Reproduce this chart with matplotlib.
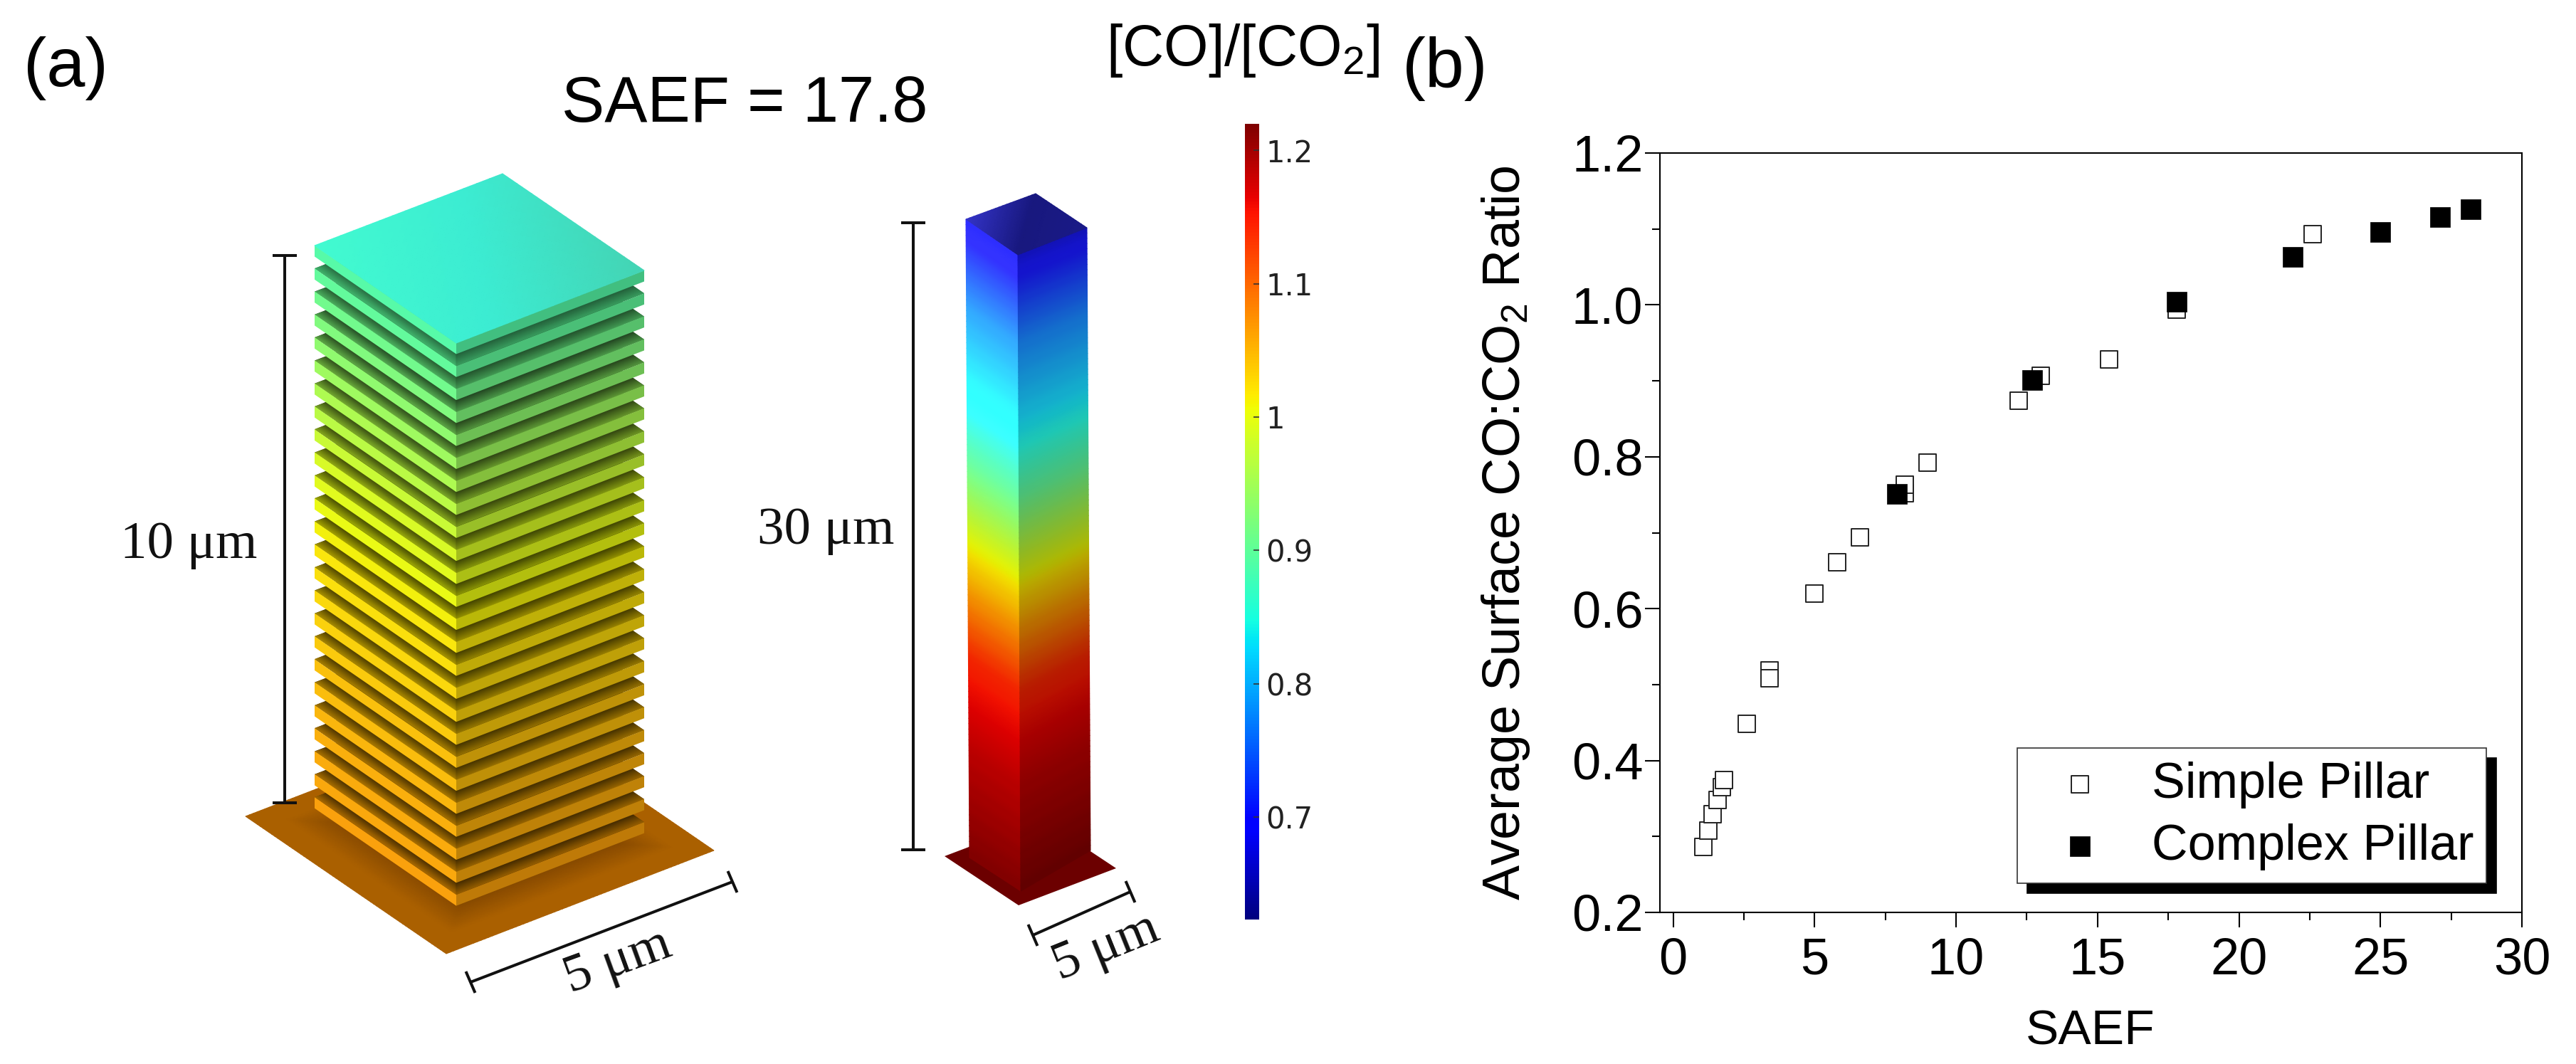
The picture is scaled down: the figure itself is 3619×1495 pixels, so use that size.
import numpy as np
import matplotlib
matplotlib.use("Agg")
import matplotlib.pyplot as plt
from matplotlib.colors import LinearSegmentedColormap, ListedColormap
from matplotlib.patches import Polygon

plt.rcParams['font.family'] = ['Liberation Sans', 'DejaVu Sans']
plt.rcParams['mathtext.default'] = 'regular'

# ---- panel (b) data ----
simple_saef = [1.07, 1.25, 1.40, 1.56, 1.72, 1.79, 2.6, 3.4, 3.4, 4.99, 5.8, 6.6, 8.19, 8.19, 9.0,
               12.2, 13.0, 15.4, 17.8, 22.6]
simple_ratio = [.286, .308, .329, .348, .365, .374, .448, .519, .508, .620, .661, .694, .752, .763, .792,
                .874, .907, .928, .994, 1.093]
complex_saef = [7.9, 12.7, 17.8, 21.9, 25.0, 27.1, 28.2]
complex_ratio = [.751, .901, 1.004, 1.063, 1.096, 1.116, 1.126]
x_ticks = [0, 5, 10, 15, 20, 25, 30]
y_ticks = [0.2, 0.4, 0.6, 0.8, 1.0, 1.2]

# ---- panel (a) readings ----
plate_ratio = [0.89, 0.90, 0.91, 0.922, 0.934, 0.946, 0.957, 0.968, 0.978, 0.99, 0.998, 1.005, 1.012,
               1.018, 1.023, 1.028, 1.033, 1.038, 1.043, 1.047, 1.051, 1.055, 1.058, 1.061, 1.064]
cbar_min, cbar_max = 0.623, 1.220
cbar_ticks = [0.7, 0.8, 0.9, 1.0, 1.1, 1.2]
cbar_labels = ['0.7', '0.8', '0.9', '1', '1.1', '1.2']
tall_frac = [0, .137, .30, .385, .50, .59, .685, .76, .84, 1]
tall_ratio = [.675, .77, .845, .905, 1.0, 1.07, 1.14, 1.165, 1.185, 1.215]

W, H = 3619, 1495
fig = plt.figure(figsize=(W / 100, H / 100), dpi=100, facecolor='white')
pix = fig.add_axes([0, 0, 1, 1])
pix.set_xlim(0, W)
pix.set_ylim(H, 0)
pix.axis('off')

jet = plt.get_cmap('jet')
base = jet(np.linspace(0, 1, 256))[:, :3]
lift = base[:, 2:3] * (1 - base[:, 0:1])
jet_light = ListedColormap(np.clip(base * 0.95 + 0.2 * lift, 0, 1))
jet_dark = ListedColormap(np.clip(base * 0.72 + 0.08 * lift, 0, 1))


def mesh(c00, c01, c10, c11, C, cmap, vmin, vmax, z):
    """Bilinear gouraud patch: rows go c00->c10, columns c00->c01; C has shape (rows, cols)."""
    C = np.asarray(C, float)
    r, c = C.shape
    v = np.linspace(0, 1, r)[:, None]
    u = np.linspace(0, 1, c)[None, :]
    P = [(1 - v) * (1 - u) * a + (1 - v) * u * b + v * (1 - u) * d + v * u * e
         for a, b, d, e in zip(c00, c01, c10, c11)]
    return pix.pcolormesh(P[0], P[1], C, cmap=cmap, vmin=vmin, vmax=vmax, shading='gouraud', zorder=z)


def rgb(v, f=1.0, mix=0.0):
    col = np.array(jet((v - cbar_min) / (cbar_max - cbar_min))[:3])
    return tuple(np.clip(col * f + mix, 0, 1))


# ---- short pillar base ----
b_L, b_F, b_R = np.array([345, 1147.]), np.array([627, 1340.]), np.array([1003, 1195.])
b_B = b_L + b_R - b_F
uu, vv = np.meshgrid(np.linspace(0, 1, 70), np.linspace(0, 1, 70))
shade = np.clip((np.maximum(abs(uu - .5), abs(vv - .5)) * 2 - 0.42) / 0.4, 0, 1)
base_cmap = LinearSegmentedColormap.from_list('b', ['#6e3a00', '#aa6000'])
mesh(b_L, b_B, b_F, b_R, shade, base_cmap, 0, 1, 1)

# ---- stacked plates ----
L0, B0, R0, F0 = map(np.array, ([442, 345.], [706, 244.], [905, 380.], [641, 482.]))
step = np.array([0, 32.3])
thick = np.array([0, 15.5])
z = 2
for i in reversed(range(len(plate_ratio))):
    d = step * i
    L, B, R, F = L0 + d, B0 + d, R0 + d, F0 + d
    v = plate_ratio[i]
    if i > 0:
        gap = np.array([0, -17.0])
        # the exposed rim of each lower plate: lit at its edge, shadowed under the plate above
        strength = min(1.0, 0.55 + 0.15 * i)
        outer = rgb(v, 0.80 - 0.12 * strength)
        inner = rgb(v, 0.72 - 0.42 * strength)
        face = Polygon([L, B, R, F], closed=True, fc=inner, ec='none', zorder=z)
        pix.add_patch(face)
        cm = LinearSegmentedColormap.from_list('r', [outer, inner])
        cm2 = LinearSegmentedColormap.from_list('r2', [rgb(v, 0.66 - 0.06 * strength), rgb(v, 0.62 - 0.36 * strength)])
        c = np.array([[0, 0], [1, 1]])
        m1 = mesh(L, F, L + gap, F + gap, c, cm, 0, 1, z)
        m2 = mesh(F, R, F + gap, R + gap, c, cm2, 0, 1, z)
        m1.set_clip_path(face)
        m2.set_clip_path(face)
    pix.add_patch(Polygon([L, F, F + thick, L + thick], closed=True, fc=rgb(v, 0.93, 0.05), ec='none', zorder=z))
    pix.add_patch(Polygon([F, R, R + thick, F + thick], closed=True, fc=rgb(v, 0.72, 0.03), ec='none', zorder=z))
    z += 0.01
top_cmap = LinearSegmentedColormap.from_list('t', ['#42fbd0', '#3cecd2', '#44d4b4'])
uu, vv = np.meshgrid(np.linspace(0, 1, 30), np.linspace(0, 1, 30))
mesh(L0, B0, F0, R0, (uu + vv * 0.6) / 1.6, top_cmap, 0, 1, z + 1)

# ---- tall pillar ----
tb_L, tb_F, tb_R = np.array([1327, 1203.]), np.array([1431, 1272.]), np.array([1568, 1220.])
pix.add_patch(Polygon([tb_L, tb_F, tb_R, tb_L + tb_R - tb_F], closed=True, fc='#6c0000', ec='none', zorder=1))
frac = np.linspace(0, 1, 120)
vals = np.interp(frac, tall_frac, tall_ratio)[:, None].repeat(2, axis=1)
tL, tF, tR, tB = map(np.array, ([1357, 308.], [1430, 358.], [1527, 320.], [1455, 272.]))
bL, bF, bR = map(np.array, ([1362, 1205.], [1434, 1252.], [1532, 1195.]))
mesh(tL, tF, bL, bF, vals, jet_light, cbar_min, cbar_max, 3)
mesh(tF, tR, bF, bR, vals, jet_dark, cbar_min, cbar_max, 3)
cap_cmap = LinearSegmentedColormap.from_list('c', ['#3434c8', '#18187e', '#1a1a88'])
uu, vv = np.meshgrid(np.linspace(0, 1, 20), np.linspace(0, 1, 20))
mesh(tL, tB, tF, tR, (uu + vv) / 2, cap_cmap, 0, 1, 3.1)


# ---- scale bars ----
def bar(p, q, cap):
    p, q, cap = map(np.array, (p, q, cap))
    for a, b in ((p, q), (p - cap, p + cap), (q - cap, q + cap)):
        pix.plot([a[0], b[0]], [a[1], b[1]], color='#111111', lw=2.9, solid_capstyle='butt', zorder=6)


bar((400, 359), (400, 1128), (17, 0))
bar((1283, 313), (1283, 1194), (17, 0))
bar((661, 1380), (1029, 1239), (6.5, 15))
bar((1451, 1314), (1588, 1253), (6.5, 15))

serif = ['Liberation Serif', 'DejaVu Serif']
ts = 54
for (tx, ty, s, rot) in [(265, 766, '10 μm', 0), (1160, 746, '30 μm', 0),
                         (868, 1352, '5 μm', 20), (1554, 1332, '5 μm', 22)]:
    pix.text(tx, ty, s, family=serif, fontsize=ts, rotation=rot, rotation_mode='anchor',
             ha='center', va='center', color='#111111')

pix.text(92, 96, '(a)', fontsize=70, ha='center', va='center')
pix.text(2030, 96, '(b)', fontsize=71, ha='center', va='center')
pix.text(1046, 148, 'SAEF = 17.8', fontsize=65, ha='center', va='center')
pix.text(1746, 71, '[CO]/[CO$_2$]', fontsize=58, ha='center', va='center')

# ---- colorbar ----
cax = fig.add_axes([1749 / W, 1 - 1292 / H, 20 / W, (1292 - 174) / H])
grad = np.linspace(cbar_min, cbar_max, 512)[:, None]
cax.imshow(grad, aspect='auto', origin='lower', cmap='jet', vmin=cbar_min, vmax=cbar_max,
           extent=[0, 1, cbar_min, cbar_max])
cax.set_xticks([])
cax.set_yticks(cbar_ticks)
cax.set_yticklabels(cbar_labels, family=['DejaVu Sans'], fontsize=30, color='#222222')
cax.yaxis.tick_right()
cax.tick_params(axis='y', direction='in', length=6, width=1.2, pad=7, color='#333333')
for s in cax.spines.values():
    s.set_visible(False)

# ---- panel (b) ----
ax = fig.add_axes([2332 / W, 1 - 1282 / H, (3543 - 2332) / W, (1282 - 215) / H])
ax.set_xlim(-0.47, 30)
ax.set_ylim(0.2, 1.2)
ax.scatter(simple_saef, simple_ratio, marker='s', s=300, facecolors='white', edgecolors='#222222',
           linewidths=1.4, label='Simple Pillar', zorder=3)
ax.scatter(complex_saef, complex_ratio, marker='s', s=380, facecolors='black', edgecolors='black',
           linewidths=0.5, label='Complex Pillar', zorder=4)
ax.set_xticks(x_ticks)
ax.set_yticks(y_ticks)
ax.set_yticklabels([f'{v:.1f}' for v in y_ticks])
ax.set_xticks(np.arange(2.5, 30, 5), minor=True)
ax.set_yticks(np.arange(0.3, 1.2, 0.2), minor=True)
ax.tick_params(axis='both', which='major', length=15, width=1.5, labelsize=52, direction='out')
ax.tick_params(axis='both', which='minor', length=8, width=1.5, direction='out')
ax.tick_params(axis='x', which='major', pad=10)
ax.tick_params(axis='y', which='major', pad=2)
for s in ax.spines.values():
    s.set_linewidth(1.5)
ax.set_xlabel('SAEF', fontsize=50, va='center')
ax.xaxis.set_label_coords((2937 - 2332) / 1211, -(1449 - 1282) / 1067)
ax.set_ylabel('Average Surface CO:CO$_2$ Ratio', fontsize=53, va='center')
ax.yaxis.set_label_coords((2116 - 2332) / 1211, 0.50)

leg = ax.legend(loc='lower left', bbox_to_anchor=(2834, 1241), bbox_transform=pix.transData,
                borderaxespad=0, fontsize=50.5, handlelength=2.0, handletextpad=0.43, borderpad=0.26,
                labelspacing=0.3, fancybox=False, framealpha=1, edgecolor='#333333',
                shadow={'color': 'black', 'alpha': 1, 'ox': 10, 'oy': -10})
leg.get_frame().set_linewidth(1.2)
leg.set_zorder(5)

fig.savefig('out.png', dpi=100, facecolor='white')
